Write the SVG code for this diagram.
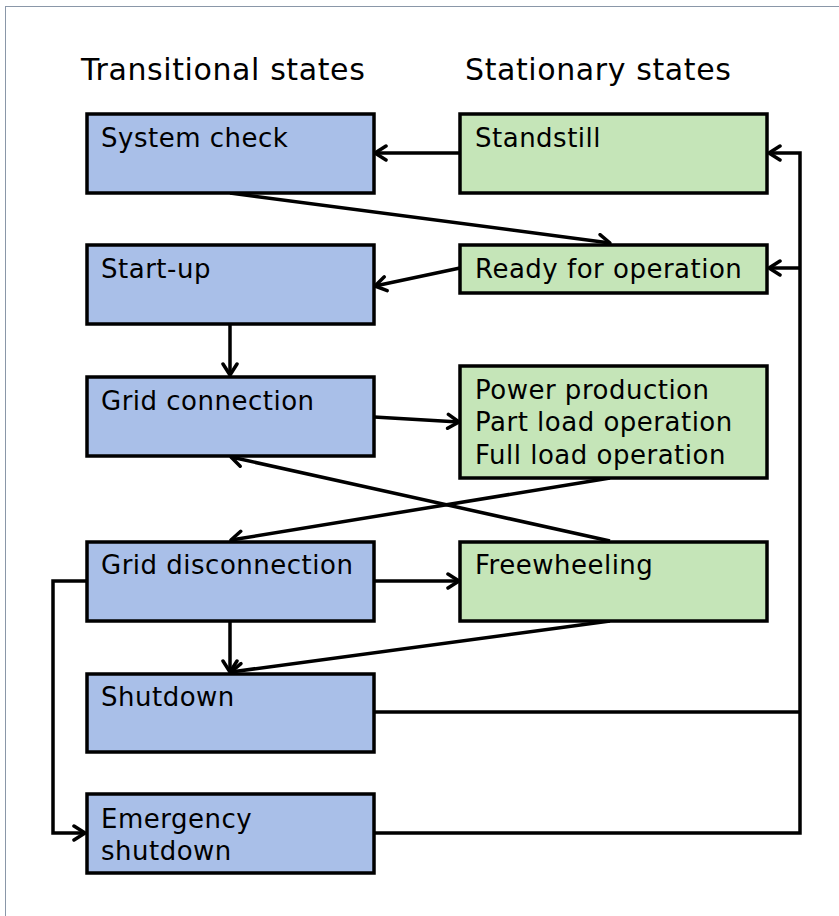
<svg xmlns="http://www.w3.org/2000/svg" width="839" height="916" viewBox="0 0 839 916">
<defs>
<marker id="arr" viewBox="0 0 16 18" refX="14" refY="9" markerWidth="16" markerHeight="18" markerUnits="userSpaceOnUse" orient="auto">
<path d="M3,2 L14,9 L3,16" fill="none" stroke="#000" stroke-width="3.5" stroke-linecap="round" stroke-linejoin="round"/>
</marker>
</defs>
<style>
.t{fill:#a9bfe8;stroke:#000;stroke-width:3.5}
.s{fill:#c5e5b8;stroke:#000;stroke-width:3.5}
text{font-family:"DejaVu Sans",Verdana,sans-serif;font-size:26px;letter-spacing:0.5px;fill:#000}
.h{font-size:30px;letter-spacing:0.6px}
.c{fill:none;stroke:#000;stroke-width:3.5}
</style>
<rect x="5.5" y="6.5" width="850" height="920" fill="#fff" stroke="#8a97a8" stroke-width="1"/>
<text class="h" x="81" y="80">Transitional states</text>
<text class="h" x="465" y="80">Stationary states</text>
<g id="connectors">
<line class="c" x1="460" y1="153" x2="375" y2="153" marker-end="url(#arr)"/>
<line class="c" x1="230" y1="193" x2="610" y2="243" marker-end="url(#arr)"/>
<line class="c" x1="460" y1="268" x2="375" y2="286" marker-end="url(#arr)"/>
<line class="c" x1="230" y1="325" x2="230" y2="375" marker-end="url(#arr)"/>
<line class="c" x1="374" y1="417" x2="459" y2="422" marker-end="url(#arr)"/>
<line class="c" x1="610" y1="478" x2="231" y2="540" marker-end="url(#arr)"/>
<line class="c" x1="610" y1="541" x2="231" y2="457" marker-end="url(#arr)"/>
<line class="c" x1="374" y1="581" x2="459" y2="581" marker-end="url(#arr)"/>
<line class="c" x1="230" y1="621" x2="230" y2="672" marker-end="url(#arr)"/>
<line class="c" x1="610" y1="621" x2="231" y2="672" marker-end="url(#arr)"/>
<polyline class="c" points="374,712 800,712"/>
<polyline class="c" points="374,833 800,833 800,153 769,153" marker-end="url(#arr)"/>
<line class="c" x1="800" y1="268" x2="769" y2="268" marker-end="url(#arr)"/>
<polyline class="c" points="86,581 53,581 53,833 85,833" marker-end="url(#arr)"/>
</g>
<g id="system-check"><rect class="t" x="87" y="114" width="287" height="79"/><text x="101" y="147">System check</text></g>
<g id="start-up"><rect class="t" x="87" y="245" width="287" height="79"/><text x="101" y="278">Start-up</text></g>
<g id="grid-connection"><rect class="t" x="87" y="377" width="287" height="79"/><text x="101" y="410">Grid connection</text></g>
<g id="grid-disconnection"><rect class="t" x="87" y="542" width="287" height="79"/><text x="101" y="574">Grid disconnection</text></g>
<g id="shutdown"><rect class="t" x="87" y="674" width="287" height="78"/><text x="101" y="706">Shutdown</text></g>
<g id="emergency-shutdown"><rect class="t" x="87" y="794" width="287" height="79"/><text x="101" y="828">Emergency</text><text x="101" y="860">shutdown</text></g>
<g id="standstill"><rect class="s" x="460" y="114" width="307" height="79"/><text x="475" y="147">Standstill</text></g>
<g id="ready"><rect class="s" x="460" y="245" width="307" height="48"/><text x="475" y="278">Ready for operation</text></g>
<g id="power-production"><rect class="s" x="460" y="366" width="307" height="112"/><text x="475" y="399">Power production</text><text x="475" y="431">Part load operation</text><text x="475" y="464">Full load operation</text></g>
<g id="freewheeling"><rect class="s" x="460" y="542" width="307" height="79"/><text x="475" y="574">Freewheeling</text></g>
</svg>
